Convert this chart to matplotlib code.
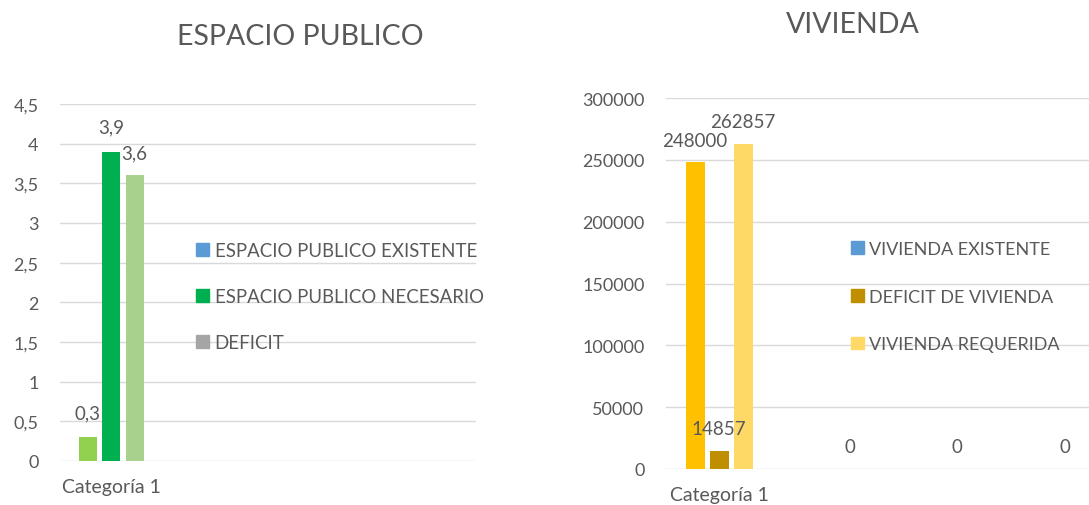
import matplotlib
matplotlib.use("Agg")
import matplotlib.pyplot as plt
from matplotlib.patches import Patch
from matplotlib.ticker import FuncFormatter

plt.rcParams['font.family'] = ['Lato', 'DejaVu Sans']

# data
category = ["Categoría 1"]
ep_labels = ["ESPACIO PUBLICO EXISTENTE", "ESPACIO PUBLICO NECESARIO", "DEFICIT"]
ep_values = [0.3, 3.9, 3.6]
ep_bar_colors = ["#92D050", "#00B050", "#A9D18E"]
ep_legend_colors = ["#5B9BD5", "#00B050", "#A5A5A5"]

viv_labels = ["VIVIENDA EXISTENTE", "DEFICIT DE VIVIENDA", "VIVIENDA REQUERIDA"]
viv_values = [248000, 14857, 262857]
viv_bar_colors = ["#FFC000", "#BF8F00", "#FFD966"]
viv_legend_colors = ["#5B9BD5", "#BF8F00", "#FFD966"]
viv_extra_values = [0, 0, 0]
viv_extra_pos = [1.31, 2.38, 3.46]

txt = "#595959"
grid = "#D9D9D9"

fig = plt.figure(figsize=(10.89, 5.06), dpi=100)


def style_axis(ax):
    for s in ax.spines.values():
        s.set_visible(False)
    ax.yaxis.grid(True, color=grid, linewidth=1)
    ax.set_axisbelow(True)
    ax.tick_params(length=0, colors=txt)
    ax.tick_params(axis='y', pad=15.5, labelsize=13)
    ax.tick_params(axis='x', pad=12, labelsize=14)


def comma(v, pos=None):
    s = "%g" % v
    return s.replace(".", ",")


# ESPACIO PUBLICO
ax1 = fig.add_axes([60 / 1089, 44 / 506, 416 / 1089, 357 / 506])
style_axis(ax1)
offsets = [-0.235, 0, 0.235]
for i in range(3):
    ax1.bar(offsets[i], ep_values[i], width=0.18, color=ep_bar_colors[i])
ax1.set_xlim(-0.51, 3.65)
ax1.set_ylim(0, 4.5)
ax1.set_yticks([i * 0.5 for i in range(10)])
ax1.yaxis.set_major_formatter(FuncFormatter(comma))
ax1.set_xticks([0])
ax1.set_xticklabels(category)
ep_lab_dy = [0.31, 0.31, 0.29]
for i in range(3):
    ax1.text(offsets[i], ep_values[i] + ep_lab_dy[i], comma(ep_values[i]),
             ha='center', va='center', fontsize=13.5, color=txt)
fig.text(300 / 1089, 1 - 37 / 506, "ESPACIO PUBLICO", ha='center', va='center',
         fontsize=20.5, color=txt)
h1 = [Patch(color=c) for c in ep_legend_colors]
fig.legend(h1, ep_labels, loc='upper left', bbox_to_anchor=(196 / 1089, 1 - 243 / 506),
           frameon=False, fontsize=13.4, labelcolor=txt, handlelength=0.7, handleheight=0.7,
           handletextpad=0.3, labelspacing=1.55, borderpad=0, borderaxespad=0)

# VIVIENDA
ax2 = fig.add_axes([666 / 1089, 36 / 506, 423 / 1089, 371 / 506])
style_axis(ax2)
offsets2 = [-0.24, 0, 0.24]
for i in range(3):
    ax2.bar(offsets2[i], viv_values[i], width=0.19, color=viv_bar_colors[i])
ax2.set_xlim(-0.53, 3.70)
ax2.set_ylim(0, 300000)
ax2.set_yticks(range(0, 300001, 50000))
ax2.set_xticks([0])
ax2.set_xticklabels(category)
for i in range(3):
    ax2.text(offsets2[i], viv_values[i] + 17800, str(viv_values[i]),
             ha='center', va='center', fontsize=13.5, color=txt)
for p, v in zip(viv_extra_pos, viv_extra_values):
    ax2.text(p, v + 17800, str(v), ha='center', va='center', fontsize=13.5, color=txt)
fig.text(853 / 1089, 1 - 25 / 506, "VIVIENDA", ha='center', va='center',
         fontsize=20.5, color=txt)
h2 = [Patch(color=c) for c in viv_legend_colors]
fig.legend(h2, viv_labels, loc='upper left', bbox_to_anchor=(851 / 1089, 1 - 242 / 506),
           frameon=False, fontsize=13, labelcolor=txt, handlelength=0.7, handleheight=0.7,
           handletextpad=0.3, labelspacing=1.75, borderpad=0, borderaxespad=0)

fig.savefig("out.png", dpi=100)
